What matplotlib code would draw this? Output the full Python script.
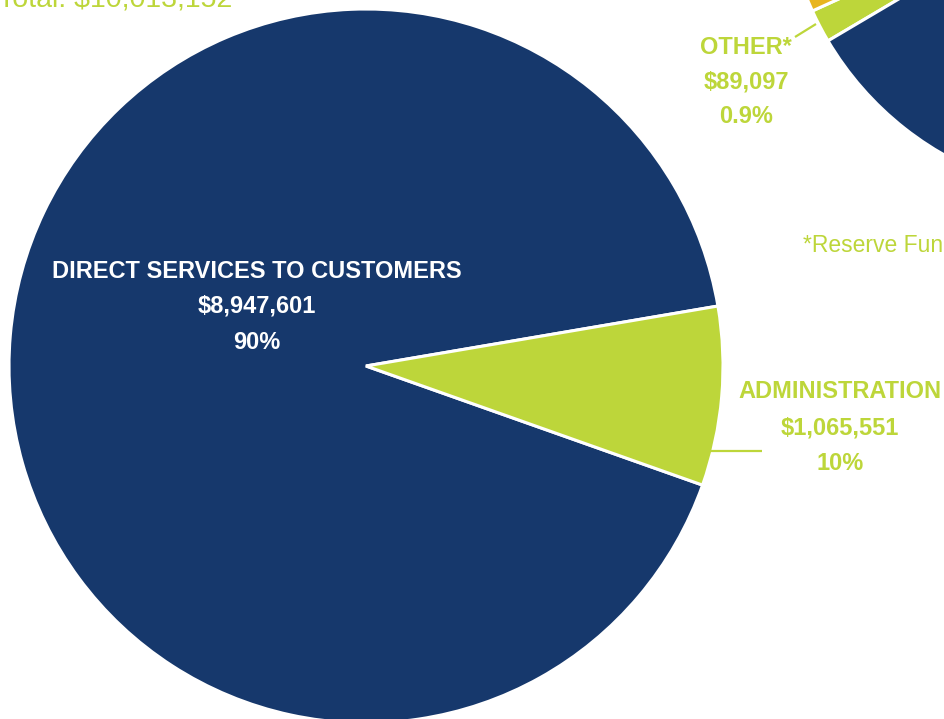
import matplotlib
matplotlib.use("Agg")
import matplotlib.pyplot as plt

# main pie: expenses
main_labels = ["DIRECT SERVICES TO CUSTOMERS", "ADMINISTRATION"]
main_amounts = ["$8,947,601", "$1,065,551"]
main_pcts = ["90%", "10%"]
main_share = [91.9, 8.1]          # wedge sizes as drawn in the picture
total_text = "Total: $10,013,152"

# second pie (mostly cut off at top right)
side_share = [1.7, 4.0, 94.3]     # other, orange slice, navy slice
other_label = ["OTHER*", "$89,097", "0.9%"]
footnote = "*Reserve Fund"

navy = "#16386C"
green = "#BDD63A"
orange = "#E8B51E"
W, H = 944, 719

fig = plt.figure(figsize=(W / 100, H / 100), dpi=100)
ax = fig.add_axes([0, 0, 1, 1])

ax.pie(main_share, colors=[navy, green], startangle=9.67, counterclock=True,
       center=(366, H - 366), radius=357,
       wedgeprops=dict(edgecolor="white", linewidth=2.2))

ax.pie(side_share, colors=[green, orange, navy], startangle=210.6, counterclock=False,
       center=(1100, H + 120), radius=316,
       wedgeprops=dict(edgecolor="white", linewidth=2.2))

ax.set_xlim(0, W)
ax.set_ylim(0, H)
ax.set_aspect("equal")
ax.axis("off")

fam = ["Liberation Sans", "DejaVu Sans"]
bold = dict(family=fam, fontweight="bold", fontsize=17, ha="center", va="baseline")

# direct services label
ax.text(257, H - 278, main_labels[0], color="white", **bold)
ax.text(257, H - 313, main_amounts[0], color="white", **bold)
ax.text(257, H - 349, main_pcts[0], color="white", **bold)

# administration label
ax.text(840, H - 398, main_labels[1], color=green, **bold)
ax.text(840, H - 434, main_amounts[1], color=green, **bold)
ax.text(840, H - 470, main_pcts[1], color=green, **bold)
ax.plot([708, 762], [H - 451, H - 451], color=green, lw=1.6, solid_capstyle="butt")

# other label
ax.text(746, H - 54, other_label[0], color=green, **bold)
ax.text(746, H - 89, other_label[1], color=green, **bold)
ax.text(746, H - 123, other_label[2], color=green, **bold)
ax.plot([795, 816], [H - 37, H - 24], color=green, lw=1.6, solid_capstyle="butt")

ax.text(803, H - 252, footnote, color=green, family=fam, fontsize=16.5,
        ha="left", va="baseline")
ax.text(-2, H - 6, total_text, color=green, family=fam, fontsize=20.5,
        ha="left", va="baseline")

fig.savefig("out.png", dpi=100)
